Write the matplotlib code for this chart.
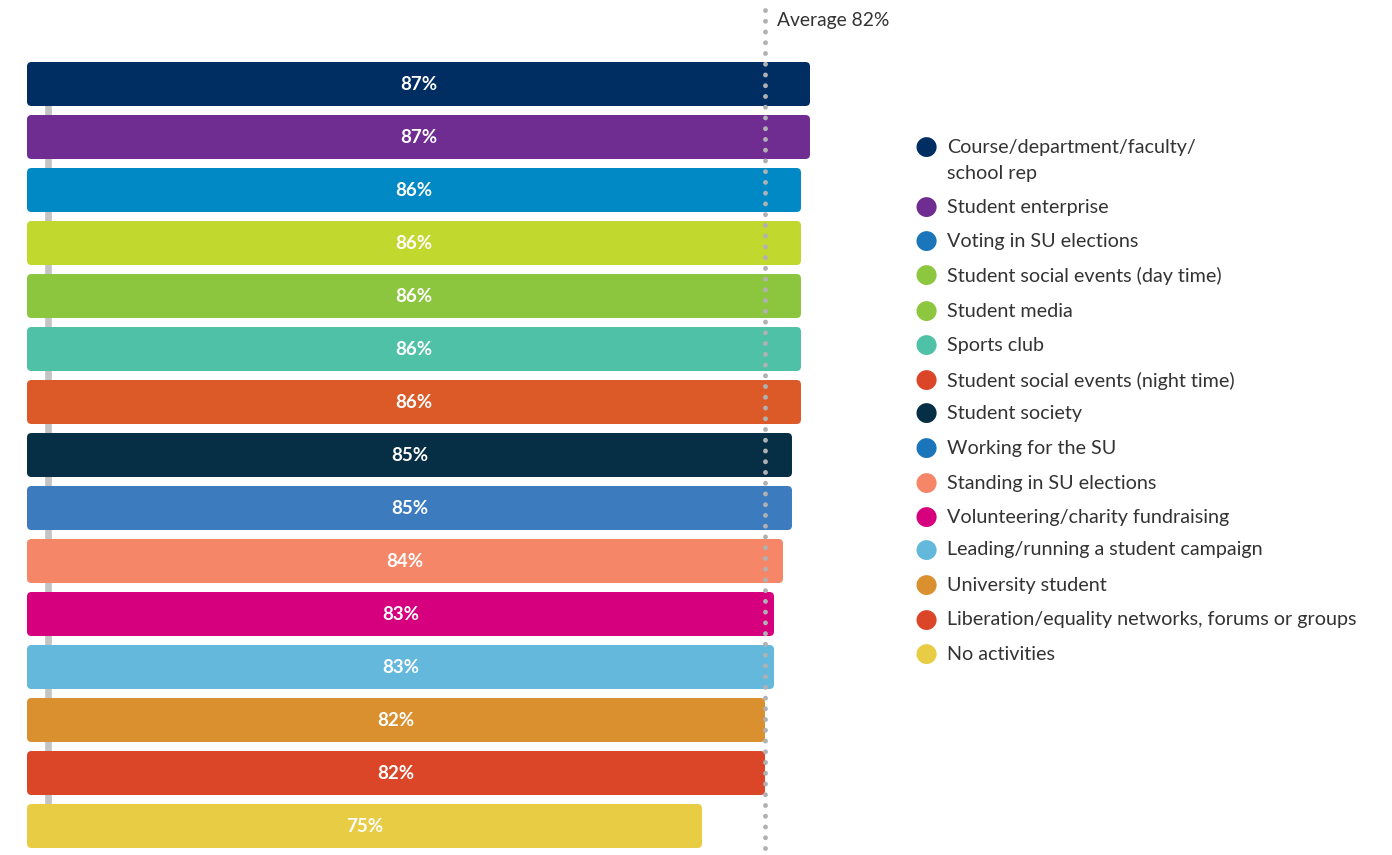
import matplotlib.pyplot as plt
from matplotlib.patches import FancyBboxPatch

plt.rcParams['font.family'] = ['Lato', 'DejaVu Sans']

#%% Data

values = [87, 87, 86, 86, 86, 86, 86, 85, 85, 84, 83, 83, 82, 82, 75]
bar_colors = ['#002D62', '#6F2C91', '#0089C4', '#C1D82F', '#8CC63F', '#4FC1A6', '#DC5A28',
              '#062F45', '#3D7BBF', '#F58667', '#D6007E', '#63B8DC', '#DA902E', '#DB4628', '#E8CC44']
legend_labels = ['Course/department/faculty/\nschool rep', 'Student enterprise', 'Voting in SU elections',
                 'Student social events (day time)', 'Student media', 'Sports club',
                 'Student social events (night time)', 'Student society', 'Working for the SU',
                 'Standing in SU elections', 'Volunteering/charity fundraising',
                 'Leading/running a student campaign', 'University student',
                 'Liberation/equality networks, forums or groups', 'No activities']
legend_colors = ['#002D62', '#6F2C91', '#1A75BB', '#8DC63F', '#8DC63F', '#4FC1A6', '#DC4628',
                 '#062F45', '#1A75BB', '#F58667', '#D6007E', '#63B8DC', '#DA902E', '#DC4628', '#E8CC44']
average = 82

#%% Figure

fig = plt.figure(figsize=(13.92, 8.55), dpi=100)
ax = fig.add_axes([0, 0, 1, 1])
ax.set_xlim(-3, 151.67)
ax.set_ylim(14.547, -1.585)
ax.axis('off')

bar_h = 0.83
# grey stem behind bars
ax.plot([2.33, 2.33], [0, len(values) - 1], color='#C4C4C4', linewidth=4.8, zorder=1, solid_capstyle='butt')

for i, (v, c) in enumerate(zip(values, bar_colors)):
    box = FancyBboxPatch((0, i - bar_h / 2), v, bar_h,
                         boxstyle='round,pad=0,rounding_size=0.5',
                         mutation_aspect=9 / 53, facecolor=c, edgecolor='none', zorder=2)
    ax.add_patch(box)
    ax.text(v / 2, i, '%d%%' % v, color='white', fontsize=13.5, fontweight='bold',
            ha='center', va='center', zorder=4)

# average line
ax.plot([average, average], [-1.4, 14.46], color='#B0B1B3', linewidth=3.5,
        linestyle=(0, (0.01, 2.2)), dash_capstyle='round', zorder=3)
ax.text(average + 1.35, -1.2, 'Average %d%%' % average, fontsize=13.9, color='#333333',
        ha='left', va='center')

#%% Legend, placed by hand

leg_y = [147, 207, 241, 275, 311, 345, 380, 413, 448, 483, 517, 550, 585, 620, 654]
for lab, col, y in zip(legend_labels, legend_colors, leg_y):
    fig.text(926 / 1392, 1 - y / 855, '\u25CF', color=col, fontsize=19, ha='center', va='center',
             family='DejaVu Sans')
    fig.text(947 / 1392, 1 - (y - 8.5) / 855, lab, color='#333333', fontsize=14.2, ha='left',
             va='top', linespacing=1.68)

plt.savefig('out.png', dpi=100)
